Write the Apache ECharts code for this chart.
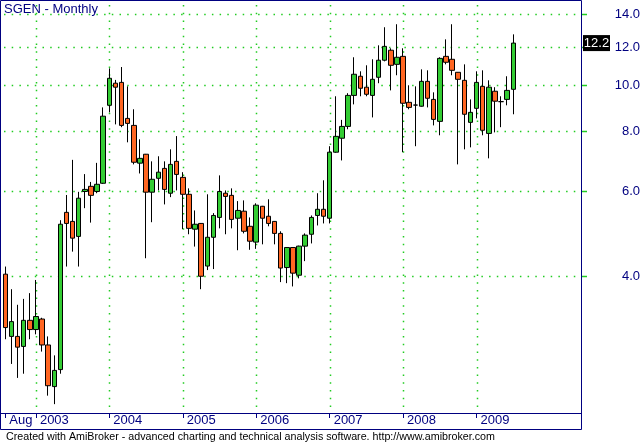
<!DOCTYPE html>
<html><head><meta charset="utf-8">
<script src="https://cdn.jsdelivr.net/npm/echarts@6/dist/echarts.min.js"></script>
<style>html,body{margin:0;padding:0;background:#fff}#c{width:642px;height:443px}</style>
</head><body><div id="c"></div>
<script>
// ---- data (monthly OHLC, Aug 2002 .. Jul 2009) ----
const months = [
  '2002-08','2002-09','2002-10','2002-11','2002-12',
  '2003-01','2003-02','2003-03','2003-04','2003-05','2003-06','2003-07','2003-08','2003-09','2003-10','2003-11','2003-12',
  '2004-01','2004-02','2004-03','2004-04','2004-05','2004-06','2004-07','2004-08','2004-09','2004-10','2004-11','2004-12',
  '2005-01','2005-02','2005-03','2005-04','2005-05','2005-06','2005-07','2005-08','2005-09','2005-10','2005-11','2005-12',
  '2006-01','2006-02','2006-03','2006-04','2006-05','2006-06','2006-07','2006-08','2006-09','2006-10','2006-11','2006-12',
  '2007-01','2007-02','2007-03','2007-04','2007-05','2007-06','2007-07','2007-08','2007-09','2007-10','2007-11','2007-12',
  '2008-01','2008-02','2008-03','2008-04','2008-05','2008-06','2008-07','2008-08','2008-09','2008-10','2008-11','2008-12',
  '2009-01','2009-02','2009-03','2009-04','2009-05','2009-06','2009-07'
];
const open = [
  4.04,3.00,3.00,2.86,3.24,3.10,3.26,2.88,2.36,2.56,
  5.43,5.20,4.84,6.00,6.15,6.00,6.24,9.06,10.07,10.11,
  8.51,8.23,6.87,7.17,5.98,6.39,6.70,5.95,6.93,6.42,
  5.92,5.01,5.15,4.20,4.82,5.30,5.95,5.89,5.28,5.46,
  5.08,4.71,5.59,5.33,5.20,4.91,4.17,4.59,4.02,4.62,
  4.89,5.35,5.51,5.28,7.24,7.74,8.19,9.50,10.41,9.88,
  9.50,10.36,11.24,11.79,11.02,11.45,9.19,9.07,9.02,10.16,
  9.32,8.39,11.45,11.29,10.61,10.21,8.35,8.93,9.92,7.92,
  9.69,9.22,9.32,9.78
];
const high = [
  4.19,3.76,3.49,3.59,3.69,3.93,3.28,3.00,2.74,5.23,
  5.90,6.98,5.99,6.52,6.28,6.88,8.97,10.81,10.23,10.88,
  9.92,8.89,7.70,7.18,6.93,7.10,6.93,7.34,7.82,6.58,
  6.09,5.48,5.16,5.92,5.41,6.48,6.03,6.09,5.73,5.75,
  5.30,5.67,5.60,5.78,5.21,4.96,4.60,4.60,4.63,4.91,
  5.35,5.95,6.33,7.45,9.46,8.45,9.60,11.40,10.66,10.97,
  11.29,12.07,13.16,11.90,13.35,11.90,9.97,9.92,10.76,10.71,
  9.64,11.40,12.42,13.35,10.62,11.02,9.32,10.66,10.71,10.21,
  9.88,9.46,10.41,12.72
];
const low = [
  2.96,2.63,2.46,2.51,2.96,3.03,2.79,2.26,2.17,2.51,
  4.19,4.50,4.19,5.54,5.17,5.95,6.22,8.76,8.27,8.16,
  7.59,6.83,6.54,4.36,5.18,6.03,5.64,5.84,6.03,5.01,
  4.89,4.61,3.76,4.12,4.14,5.03,4.89,5.03,4.53,4.91,
  4.54,4.56,4.66,5.08,4.66,3.89,3.87,3.81,3.96,4.30,
  4.68,5.10,5.15,5.15,7.22,6.96,8.08,9.10,9.46,9.46,
  8.55,10.07,11.18,9.73,10.46,7.24,8.89,7.45,9.00,8.97,
  8.23,7.85,11.02,10.46,6.83,7.34,7.41,8.51,7.85,7.03,
  7.96,8.16,9.06,8.68
];
const close = [
  3.13,3.22,2.85,3.24,3.10,3.30,2.88,2.37,2.55,5.13,
  5.15,4.80,5.81,6.06,5.89,6.21,8.60,10.31,9.88,8.23,
  8.31,6.90,7.03,5.98,6.36,6.58,6.06,6.83,6.51,5.92,
  5.03,5.13,4.00,4.82,5.35,6.00,5.86,5.25,5.48,4.96,
  4.73,5.62,5.28,5.15,4.91,4.16,4.59,4.06,4.62,4.87,
  5.30,5.51,5.33,7.24,7.81,8.19,9.50,10.51,9.83,9.55,
  10.26,11.24,12.01,10.97,11.40,9.15,8.97,9.07,10.16,9.37,
  8.47,11.34,11.13,10.71,10.26,8.68,8.76,10.11,8.04,9.88,
  9.24,9.22,9.73,12.20
];
const yTicks = [4, 6, 8, 10, 12, 14];
const yTickLabels = ['4.0', '6.0', '8.0', '10.0', '12.0', '14.0'];
const firstMonthLabel = 'Aug';
const lastValueLabel = '12.2';
const titleText = 'SGEN - Monthly';
const footerText = 'Created with AmiBroker - advanced charting and technical analysis software. http://www.amibroker.com';
const emptySlots = 11;

// ---- styling ----
const NAVY = '#000080';
const GRIDGREEN = '#22cc22';
const UP = '#33cc33';
const DOWN = '#ff6622';
const FONT = '"Liberation Sans", Arial, sans-serif';

const cats = months.concat(Array.from({length: emptySlots}, (_, i) => 'pad' + i));
const isMark = (i) => i === 0 || (i < months.length && months[i].slice(5) === '01');

const chart = echarts.init(document.getElementById('c'), null, {renderer: 'canvas'});
const option = {
  animation: false,
  backgroundColor: '#fff',
  grid: {left: 2.24, right: 58.36, top: 1, bottom: 30, containLabel: false},
  xAxis: {
    type: 'category', data: cats, boundaryGap: true,
    axisLine: {show: false},
    axisTick: {show: true, alignWithLabel: true, interval: (i) => isMark(i), length: 5,
      lineStyle: {color: NAVY, width: 1}},
    axisLabel: {show: true, interval: (i) => isMark(i),
      formatter: (v, i) => i === 0 ? firstMonthLabel : (isMark(i) ? v.slice(0, 4) : ''),
      align: 'left', padding: [0, 0, 0, 4], margin: 1, color: NAVY, fontSize: 13, fontFamily: FONT},
    splitLine: {show: false}
  },
  yAxis: {
    type: 'log', logBase: 10, min: 2.08, max: 14.92, position: 'right',
    axisLine: {show: false}, axisTick: {show: false}, axisLabel: {show: false}, splitLine: {show: false}
  },
  series: [{
    type: 'candlestick',
    data: open.map((o, i) => [o, close[i], low[i], high[i]]),
    barWidth: 5,
    itemStyle: {color: UP, color0: DOWN, borderColor: '#000', borderColor0: '#000', borderColorDoji: '#000', borderWidth: 1},
    emphasis: {disabled: true},
    z: 5
  }]
};
chart.setOption(option);

const yPx = (v) => chart.convertToPixel({yAxisIndex: 0}, v);
const xPx = (i) => chart.convertToPixel({xAxisIndex: 0}, i);
const dots = {stroke: GRIDGREEN, lineWidth: 1.5, lineDash: [1.5, 6.2]};
const els = [];
// horizontal grid lines, tick stubs, labels
yTicks.forEach((v, k) => {
  const y = Math.round(yPx(v)) + 0.5;
  els.push({type: 'line', z: 1, silent: true, shape: {x1: 4, y1: y, x2: 578, y2: y}, style: dots});
  els.push({type: 'line', z: 10, silent: true, shape: {x1: 581, y1: y, x2: 587, y2: y}, style: {stroke: GRIDGREEN, lineWidth: 1.5}});
  els.push({type: 'text', z: 10, silent: true, style: {text: yTickLabels[k], x: 640, y: y, align: 'right', verticalAlign: 'middle', fill: NAVY, font: '13px ' + FONT}});
});
// vertical grid lines at year starts
months.forEach((m, i) => {
  if (i > 0 && isMark(i)) {
    const x = Math.round(xPx(i)) + 0.5;
    els.push({type: 'line', z: 1, silent: true, shape: {x1: x, y1: 5, x2: x, y2: 407}, style: dots});
  }
});
// frame
els.push({type: 'rect', z: 10, silent: true, shape: {x: 0.5, y: 0.5, width: 581, height: 429}, style: {fill: null, stroke: NAVY, lineWidth: 1}});
els.push({type: 'line', z: 10, silent: true, shape: {x1: 0.5, y1: 413.5, x2: 581.5, y2: 413.5}, style: {stroke: NAVY, lineWidth: 1}});
// last value box
const ly = yPx(close[close.length - 1]);
els.push({type: 'rect', z: 10, silent: true, shape: {x: 583, y: ly - 8, width: 27, height: 16}, style: {fill: '#000'}});
els.push({type: 'text', z: 11, silent: true, style: {text: lastValueLabel, x: 596.5, y: ly, align: 'center', verticalAlign: 'middle', fill: '#fff', font: '13px ' + FONT}});
// title and footer
els.push({type: 'text', z: 10, silent: true, style: {text: titleText, x: 4, y: 9, align: 'left', verticalAlign: 'middle', fill: NAVY, font: '13px ' + FONT}});
els.push({type: 'text', z: 10, silent: true, style: {text: footerText, x: 6, y: 437, align: 'left', verticalAlign: 'middle', fill: '#000', font: '10.7px ' + FONT}});
chart.setOption({graphic: {elements: els}});
</script>
</body></html>
